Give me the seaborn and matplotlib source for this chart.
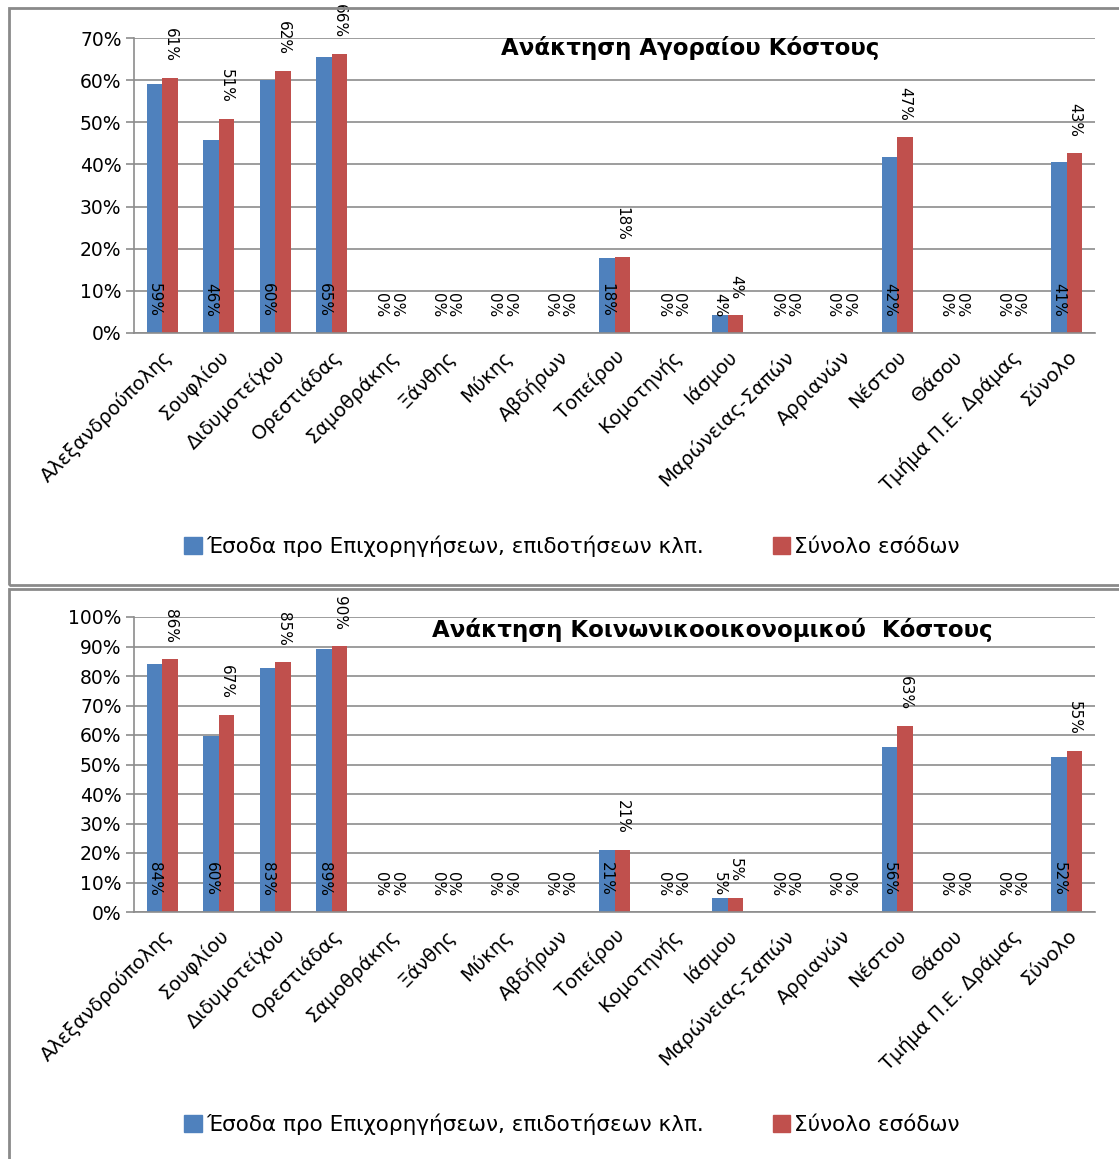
import pandas as pd
import numpy as np
import matplotlib
matplotlib.use("Agg")
import matplotlib.pyplot as plt
import matplotlib.patches as mpatches
from matplotlib.ticker import PercentFormatter, FixedLocator
import seaborn as sns

# --- data ---
categories = ["Αλεξανδρούπολης", "Σουφλίου", "Διδυμοτείχου", "Ορεστιάδας",
              "Σαμοθράκης", "Ξάνθης", "Μύκης", "Αβδήρων", "Τοπείρου",
              "Κομοτηνής", "Ιάσμου", "Μαρώνειας-Σαπών", "Αρριανών", "Νέστου",
              "Θάσου", "Τμήμα Π.Ε. Δράμας", "Σύνολο"]
series_names = ["Έσοδα προ Επιχορηγήσεων, επιδοτήσεων κλπ.", "Σύνολο εσόδων"]

# Ανάκτηση Αγοραίου Κόστους
market_pre = [0.592, 0.458, 0.601, 0.654, 0, 0, 0, 0, 0.178, 0, 0.042, 0, 0, 0.418, 0, 0, 0.406]
market_total = [0.606, 0.507, 0.621, 0.662, 0, 0, 0, 0, 0.180, 0, 0.043, 0, 0, 0.466, 0, 0, 0.426]

# Ανάκτηση Κοινωνικοοικονομικού Κόστους
social_pre = [0.841, 0.598, 0.826, 0.890, 0, 0, 0, 0, 0.209, 0, 0.047, 0, 0, 0.560, 0, 0, 0.524]
social_total = [0.858, 0.667, 0.847, 0.901, 0, 0, 0, 0, 0.209, 0, 0.047, 0, 0, 0.629, 0, 0, 0.546]

titles = ["Ανάκτηση Αγοραίου Κόστους", "Ανάκτηση Κοινωνικοοικονομικού  Κόστους"]
ymax = [0.7, 1.0]

blue = "#4F81BD"
red = "#C0504D"
grid_col = "#8C8C8C"

sns.set_style("white")
plt.rcParams["font.family"] = ["DejaVu Sans"]
plt.rcParams["text.color"] = "black"
plt.rcParams["xtick.color"] = "black"
plt.rcParams["ytick.color"] = "black"

W, H = 1119, 1159
fig = plt.figure(figsize=(W / 100, H / 100), dpi=100)


def fx(px):
    return px / W


def fy(px):
    return 1 - px / H


# panel frames
fig.patches.append(mpatches.Rectangle((fx(9), fy(585)), fx(1200), fy(8) - fy(585),
                                      transform=fig.transFigure, fill=False,
                                      edgecolor="#8A8A8A", lw=2))
fig.patches.append(mpatches.Rectangle((fx(9), fy(1200)), fx(1200), fy(589) - fy(1200),
                                      transform=fig.transFigure, fill=False,
                                      edgecolor="#8A8A8A", lw=2))

panels = [
    (market_pre, market_total, 38, 333, 48, 546, 690),
    (social_pre, social_total, 617, 912, 630, 1124, 712),
]

for i, (pre, tot, ytop, ybot, ytitle, yleg, xtitle) in enumerate(panels):
    ax = fig.add_axes([fx(134), fy(ybot), fx(1095) - fx(134), fy(ytop) - fy(ybot)])
    df = pd.DataFrame({
        "cat": categories * 2,
        "val": pre + tot,
        "series": [series_names[0]] * len(categories) + [series_names[1]] * len(categories),
    })
    sns.barplot(data=df, x="cat", y="val", hue="series", palette=[blue, red],
                width=0.55, saturation=1, ax=ax, legend=False, errorbar=None,
                linewidth=0, edgecolor="none")

    ax.set_xlim(-0.5, len(categories) - 0.5)
    ax.set_ylim(0, ymax[i])
    ax.yaxis.set_major_locator(FixedLocator(np.arange(0, ymax[i] + 0.001, 0.1)))
    ax.yaxis.set_major_formatter(PercentFormatter(1.0, decimals=0))
    ax.set_xlabel("")
    ax.set_ylabel("")
    ax.grid(axis="y", color=grid_col, lw=1.2)
    ax.set_axisbelow(True)

    for s in ["top", "right"]:
        ax.spines[s].set_visible(False)
    for s in ["left", "bottom"]:
        ax.spines[s].set_color(grid_col)
        ax.spines[s].set_linewidth(1.2)

    ax.set_xticks(range(len(categories)))
    ax.set_xticklabels(categories, rotation=45, ha="right", rotation_mode="anchor",
                       fontsize=14)
    ax.set_xticks(np.arange(-0.5, len(categories), 1), minor=True)
    ax.tick_params(axis="x", which="major", length=0, pad=10)
    ax.tick_params(axis="x", which="minor", length=7, color=grid_col, width=1.2)
    ax.tick_params(axis="y", length=6, color=grid_col, labelcolor="black", width=1.2,
                   labelsize=13.5, pad=3, left=True)

    # data labels: first series inside base, second outside end
    for j, cont in enumerate(ax.containers):
        for bar in cont:
            h = bar.get_height()
            xc = bar.get_x() + bar.get_width() / 2
            yb = 0 if j == 0 else h
            ax.annotate(f"{int(h * 100 + 0.5)}%", (xc, yb), xytext=(0, 11.5),
                        textcoords="offset points", rotation=270,
                        ha="center", va="bottom", fontsize=11, color="black",
                        annotation_clip=False)

    fig.text(fx(xtitle), fy(ytitle), titles[i], ha="center", va="center",
             fontsize=16.5, fontweight="bold", color="black")

    handles = [mpatches.Patch(color=blue, label=series_names[0]),
               mpatches.Patch(color=red, label=series_names[1])]
    fig.legend(handles=handles, loc="center", bbox_to_anchor=(fx(572), fy(yleg)),
               ncol=2, frameon=False, fontsize=15.5, handlelength=0.8,
               handleheight=0.8, handletextpad=0.2, columnspacing=3.2)

fig.savefig("out.png", dpi=100)
